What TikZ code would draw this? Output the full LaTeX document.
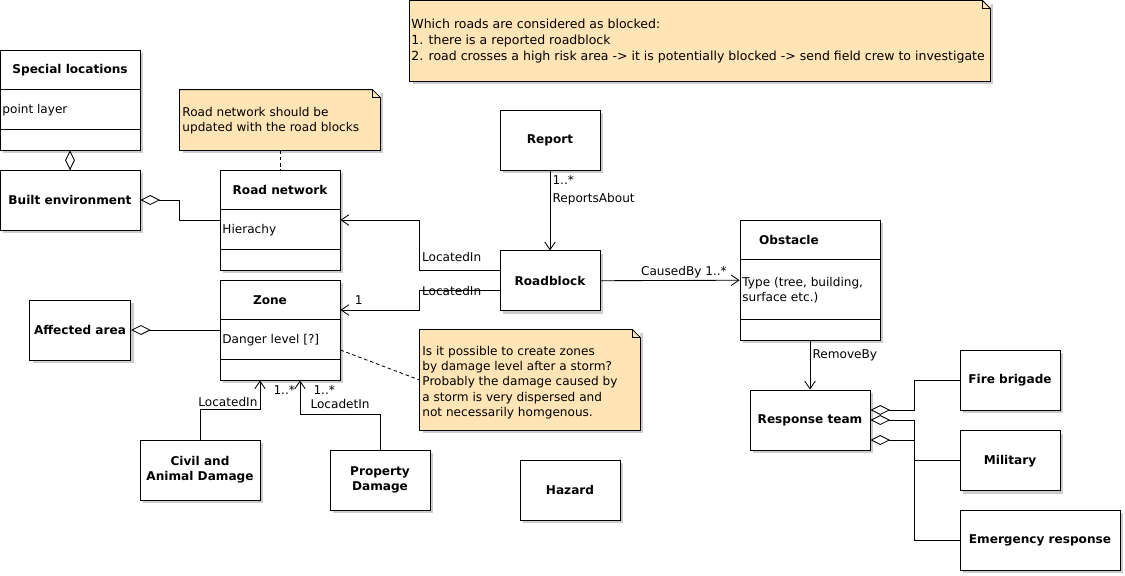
\documentclass[tikz,border=0pt]{standalone}
\usepackage{fontspec}
\setmainfont{DejaVu Sans}
\usepackage{tikz}
\usetikzlibrary{positioning,arrows.meta,shadows,calc}
\definecolor{notecol}{RGB}{255,228,181}
\newcommand{\umlfont}{\fontsize{8.6}{10.8}\selectfont}
\newcommand{\notefold}[1]{%
  \fill[white] ([xshift=-0.2cm]#1.north east) -- (#1.north east) -- ([yshift=-0.2cm]#1.north east) -- cycle;
  \draw (#1.south west) -- (#1.north west) -- ([xshift=-0.2cm]#1.north east)
        -- ([yshift=-0.2cm]#1.north east) -- (#1.south east) -- cycle;
  \draw ([xshift=-0.2cm]#1.north east) |- ([yshift=-0.2cm]#1.north east);
}
\tikzset{
  umlbox/.style args={#1,#2}{
  draw=black,
  fill=white,
  align=center,
  font=\umlfont\bfseries,
  minimum width=#1 cm,
  minimum height=#2 cm,
  drop shadow={shadow xshift=0.08cm,shadow yshift=-0.08cm,fill=black!20,opacity=1}
  },
  notebox/.style args={#1,#2}{
  fill=notecol,
  minimum width=#1 cm,
  minimum height=#2 cm,
  drop shadow={shadow xshift=0.08cm,shadow yshift=-0.08cm,fill=black!20,opacity=1}
  },
  hdr/.style={inner sep=0pt,font=\umlfont\bfseries},
  txt/.style={inner sep=0pt,align=left,font=\umlfont},
  lbl/.style={inner sep=1.5pt,font=\umlfont},
  assoc/.style={-{Straight Barb[length=5.5pt,width=7.5pt]}},
  agg/.style={-{Diamond[open,length=14pt,width=7pt]}}
}
\begin{document}
\begin{tikzpicture}[x=0.025cm,y=-0.025cm,line width=0.6pt]
  \useasboundingbox (0,0) rectangle (1125,575);

  % notes
  \node[notebox={14.5,2}] (topnote) at (700,41) {};
  \notefold{topnote}
  \node[txt,anchor=north west,font=\fontsize{8.9}{11.4}\selectfont] (topnotet) at (411,19)
    {Which roads are considered as blocked:\\1. there is a reported roadblock\\2. road crosses a high risk area -> it is potentially blocked -> send field crew to investigate};
  \node[notebox={5,1.5}] (rnote) at (280,120) {};
  \notefold{rnote}
  \node[txt,anchor=north west] (rnotet) at (182,107) {Road network should be\\updated with the road blocks};
  \node[notebox={5.5,2.5}] (znote) at (530,380) {};
  \notefold{znote}
  \node[txt,anchor=north west] (znotet) at (422,346)
    {Is it possible to create zones\\by damage level after a storm?\\Probably the damage caused by\\a storm is very dispersed and\\not necessarily homgenous.};

  % classes
  \node[umlbox={3.5,2.5}] (spec) at (70,100) {};
  \node[hdr] (spech) at (70,70) {Special locations};
  \node[txt,anchor=west] (speca) at (2,110) {point layer};
  \node[umlbox={3.5,1.5}] (built) at (70,200) {Built environment};
  \node[umlbox={3,2.5}] (road) at (280,220) {};
  \node[hdr] (roadh) at (280,190) {Road network};
  \node[txt,anchor=west] (roada) at (222,230) {Hierachy};
  \node[umlbox={3,2.5}] (zone) at (280,330) {};
  \node[hdr] (zoneh) at (270,300) {Zone};
  \node[txt,anchor=west] (zonea) at (222,340) {Danger level [?]};
  \node[umlbox={2.5,1.5}] (affect) at (80,330) {Affected area};
  \node[umlbox={3,1.5}] (civil) at (200,470) {Civil and\\Animal Damage};
  \node[umlbox={2.5,1.5}] (prop) at (380,480) {Property\\Damage};
  \node[umlbox={2.5,1.5}] (report) at (550,140) {Report};
  \node[umlbox={2.5,1.5},below=2cm of report] (block) {Roadblock};
  \node[umlbox={2.5,1.5}] (hazard) at (570,490) {Hazard};
  \node[umlbox={3.5,3}] (obst) at (810,280) {};
  \node[hdr] (obsth) at (789,240) {Obstacle};
  \node[txt,anchor=north west] (obsta) at (742,277) {Type (tree, building,\\surface etc.)};
  \node[umlbox={3,1.5}] (resp) at (810,420) {Response team};
  \node[umlbox={2.5,1.5}] (fire) at (1010,380) {Fire brigade};
  \node[umlbox={2.5,1.5},below=0.5cm of fire] (mil) {Military};
  \node[umlbox={4,1.5}] (emer) at (1040,540) {Emergency response};

  \foreach \n/\d in {spec/1,spec/2,road/1,road/2,zone/1,zone/2,obst/1,obst/2.5}
    \draw ([yshift=-\d cm]\n.north west) -- ([yshift=-\d cm]\n.north east);

  % associations
  \path (report) edge[assoc] node[lbl,right,pos=0.12] (m1) {1..*}
                             node[lbl,right,pos=0.36] (m2) {ReportsAbout} (block)
        (block) edge[assoc] node[lbl,above,pos=0.6] (m3) {CausedBy 1..*} (obst)
        (obst) edge[assoc] node[lbl,right,pos=0.3] (m4) {RemoveBy} (resp);

  \draw[assoc] ([yshift=0.25cm]block.west) -- ++(-80,0)
    node[lbl,anchor=west,pos=1,yshift=0.35cm] (m5) {LocatedIn} |- (road.east);
  \draw[assoc] ([yshift=-0.25cm]block.west) -- ++(-80,0)
    node[lbl,anchor=west,pos=1] (m6) {LocatedIn} |- ([yshift=0.5cm]zone.east)
    node[lbl,anchor=west,pos=1,xshift=0.3cm,yshift=0.25cm] (m7) {1};
  \draw[assoc] (civil.north) -- ++(0,-30) -|
    node[lbl,anchor=south east,pos=0.5] (m8) {LocatedIn}
    node[lbl,anchor=west,pos=1,xshift=0.275cm,yshift=-0.25cm] (m9) {1..*} ([xshift=-0.5cm]zone.south);
  \draw[assoc] (prop.north) -- ++(0,-35) -|
    node[lbl,anchor=west,pos=0.5,xshift=0.2cm,yshift=0.275cm] (m10) {LocadetIn}
    node[lbl,anchor=west,pos=1,xshift=0.275cm,yshift=-0.25cm] (m11) {1..*} ([xshift=0.5cm]zone.south);

  % aggregations
  \draw[agg] (built) -- (spec);
  \draw[agg] (road.west) -- ++(-40,0) |- (built.east);
  \draw[agg] (zone) -- (affect);
  \draw[agg] (fire.west) -- ++(-45,0) |- ([yshift=0.25cm]resp.east);
  \draw[agg] (mil.west) -- ++(-45,0) |- (resp.east);
  \draw[agg] (emer.west) -- ++(-45,0) |- ([yshift=-0.5cm]resp.east);

  % note links
  \draw[dash pattern=on 2.5pt off 2pt] (rnote) -- (road);
  \draw[dash pattern=on 2.5pt off 2pt] ([yshift=-0.5cm]zone.east) -- (znote.west);
\end{tikzpicture}
\end{document}
